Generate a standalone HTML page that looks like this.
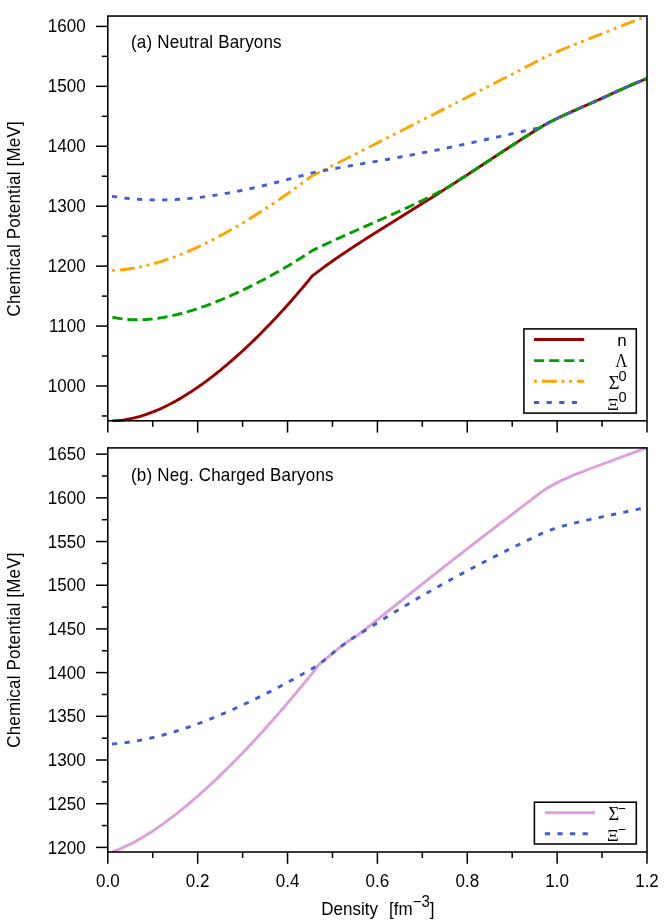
<!DOCTYPE html>
<html><head><meta charset="utf-8"><title>Chemical Potential</title>
<style>html,body{margin:0;padding:0;background:#fff}body{width:664px;height:924px;overflow:hidden}</style></head>
<body>
<svg width="664" height="924" viewBox="0 0 664 924" style="display:block;will-change:transform;font-family:'Liberation Sans',sans-serif;font-size:17px" fill="#000">
<rect width="664" height="924" fill="#fff"/>
<defs><clipPath id="c1"><rect x="107.8" y="15.05" width="539.2" height="407.25"/></clipPath><clipPath id="c2"><rect x="107.8" y="446.9" width="539.2" height="406.6"/></clipPath></defs>
<g text-anchor="end">
<text transform="translate(85.6,391.95) scale(1,1.03)">1000</text>
<text transform="translate(85.6,332.02) scale(1,1.03)">1100</text>
<text transform="translate(85.6,272.08) scale(1,1.03)">1200</text>
<text transform="translate(85.6,212.15) scale(1,1.03)">1300</text>
<text transform="translate(85.6,152.22) scale(1,1.03)">1400</text>
<text transform="translate(85.6,92.28) scale(1,1.03)">1500</text>
<text transform="translate(85.6,32.35) scale(1,1.03)">1600</text>
<text transform="translate(85.6,853.50) scale(1,1.03)">1200</text>
<text transform="translate(85.6,809.81) scale(1,1.03)">1250</text>
<text transform="translate(85.6,766.11) scale(1,1.03)">1300</text>
<text transform="translate(85.6,722.42) scale(1,1.03)">1350</text>
<text transform="translate(85.6,678.72) scale(1,1.03)">1400</text>
<text transform="translate(85.6,635.03) scale(1,1.03)">1450</text>
<text transform="translate(85.6,591.33) scale(1,1.03)">1500</text>
<text transform="translate(85.6,547.64) scale(1,1.03)">1550</text>
<text transform="translate(85.6,503.94) scale(1,1.03)">1600</text>
<text transform="translate(85.6,460.25) scale(1,1.03)">1650</text>
</g>
<g text-anchor="middle">
<text transform="translate(107.80,886.8) scale(1,1.03)">0.0</text>
<text transform="translate(197.67,886.8) scale(1,1.03)">0.2</text>
<text transform="translate(287.53,886.8) scale(1,1.03)">0.4</text>
<text transform="translate(377.40,886.8) scale(1,1.03)">0.6</text>
<text transform="translate(467.27,886.8) scale(1,1.03)">0.8</text>
<text transform="translate(557.13,886.8) scale(1,1.03)">1.0</text>
<text transform="translate(647.00,886.8) scale(1,1.03)">1.2</text>
</g>
<text transform="translate(20.3,218.83) rotate(-90) scale(1,1.055)" text-anchor="middle" letter-spacing="0.19">Chemical Potential [MeV]</text>
<text transform="translate(20.3,650.05) rotate(-90) scale(1,1.055)" text-anchor="middle" letter-spacing="0.19">Chemical Potential [MeV]</text>
<text transform="translate(321.3,914.6) scale(1,1.055)" xml:space="preserve">Density  <tspan dx="1.6">[fm</tspan><tspan font-size="15" dy="-7.2">−3</tspan><tspan dy="7.2">]</tspan></text>
<text transform="translate(131,47.65) scale(1,1.055)" letter-spacing="0.18">(a) Neutral Baryons</text>
<text transform="translate(131,481.25) scale(1,1.055)" letter-spacing="0.18">(b) Neg. Charged Baryons</text>
<g fill="none" stroke-width="2.9" stroke-linejoin="round" clip-path="url(#c1)">
<path d="M112.25,420.90 L114.25,420.82 L116.25,420.70 L118.25,420.55 L120.25,420.35 L122.25,420.11 L124.25,419.84 L126.25,419.52 L128.25,419.17 L130.25,418.78 L132.25,418.36 L134.25,417.90 L136.25,417.40 L138.25,416.87 L140.25,416.31 L142.25,415.71 L144.25,415.07 L146.25,414.41 L148.25,413.71 L150.25,412.98 L152.25,412.22 L154.25,411.42 L156.25,410.60 L158.25,409.74 L160.25,408.86 L162.25,407.95 L164.25,407.00 L166.25,406.03 L168.25,405.03 L170.25,404.00 L172.25,402.95 L174.25,401.87 L176.25,400.76 L178.25,399.62 L180.25,398.46 L182.25,397.28 L184.25,396.07 L186.25,394.83 L188.25,393.57 L190.25,392.28 L192.25,390.97 L194.25,389.64 L196.25,388.28 L198.25,386.90 L200.25,385.50 L202.25,384.07 L204.25,382.63 L206.25,381.16 L208.25,379.67 L210.25,378.15 L212.25,376.62 L214.25,375.06 L216.25,373.49 L218.25,371.89 L220.25,370.28 L222.25,368.64 L224.25,366.98 L226.25,365.30 L228.25,363.61 L230.25,361.89 L232.25,360.16 L234.25,358.40 L236.25,356.63 L238.25,354.84 L240.25,353.03 L242.25,351.20 L244.25,349.35 L246.25,347.49 L248.25,345.60 L250.25,343.70 L252.25,341.78 L254.25,339.84 L256.25,337.89 L258.25,335.91 L260.25,333.92 L262.25,331.91 L264.25,329.89 L266.25,327.85 L268.25,325.78 L270.25,323.71 L272.25,321.61 L274.25,319.50 L276.25,317.37 L278.25,315.22 L280.25,313.05 L282.25,310.87 L284.25,308.67 L286.25,306.45 L288.25,304.21 L290.25,301.96 L292.25,299.69 L294.25,297.40 L296.25,295.10 L298.25,292.77 L300.25,290.43 L302.25,288.07 L304.25,285.70 L306.25,283.30 L308.25,280.89 L310.25,278.45 L312.25,276.00 L312.30,275.94 L314.30,274.34 L316.30,272.82 L318.30,271.32 L320.30,269.83 L322.30,268.36 L324.30,266.90 L326.30,265.46 L328.30,264.02 L330.30,262.60 L332.30,261.19 L334.30,259.80 L336.30,258.41 L338.30,257.03 L340.30,255.67 L342.30,254.31 L344.30,252.96 L346.30,251.62 L348.30,250.29 L350.30,248.96 L352.30,247.65 L354.30,246.33 L356.30,245.03 L358.30,243.73 L360.30,242.44 L362.30,241.15 L364.30,239.87 L366.30,238.59 L368.30,237.32 L370.30,236.05 L372.30,234.79 L374.30,233.53 L376.30,232.27 L378.30,231.01 L380.30,229.76 L382.30,228.50 L384.30,227.25 L386.30,226.01 L388.30,224.76 L390.30,223.51 L392.30,222.27 L394.30,221.02 L396.30,219.78 L398.30,218.53 L400.30,217.29 L402.30,216.05 L404.30,214.80 L406.30,213.56 L408.30,212.31 L410.30,211.06 L412.30,209.82 L414.30,208.57 L416.30,207.32 L418.30,206.07 L420.30,204.81 L422.30,203.56 L424.30,202.30 L426.30,201.04 L428.30,199.78 L430.30,198.52 L432.30,197.26 L434.30,195.99 L436.30,194.72 L438.30,193.45 L440.30,192.18 L442.30,190.90 L444.30,189.62 L446.30,188.34 L448.30,187.06 L450.30,185.78 L452.30,184.49 L454.30,183.20 L456.30,181.91 L458.30,180.61 L460.30,179.32 L462.30,178.02 L464.30,176.72 L466.30,175.42 L468.30,174.12 L470.30,172.81 L472.30,171.50 L474.30,170.20 L476.30,168.89 L478.30,167.58 L480.30,166.26 L482.30,164.95 L484.30,163.64 L486.30,162.32 L488.30,161.01 L490.30,159.69 L492.30,158.38 L494.30,157.07 L496.30,155.75 L498.30,154.44 L500.30,153.12 L502.30,151.81 L504.30,150.50 L506.30,149.19 L508.30,147.89 L510.30,146.58 L512.30,145.28 L514.30,143.98 L516.30,142.68 L518.30,141.38 L520.30,140.09 L522.30,138.81 L524.30,137.52 L526.30,136.25 L528.30,134.97 L530.30,133.71 L532.30,132.44 L534.30,131.19 L536.30,129.94 L538.30,128.69 L539.50,127.95 L541.50,126.71 L543.50,125.56 L545.50,124.44 L547.50,123.36 L549.50,122.29 L551.50,121.26 L553.50,120.25 L555.50,119.25 L557.50,118.28 L559.50,117.32 L561.50,116.38 L563.50,115.45 L565.50,114.53 L567.50,113.62 L569.50,112.72 L571.50,111.82 L573.50,110.93 L575.50,110.05 L577.50,109.16 L579.50,108.28 L581.50,107.40 L583.50,106.52 L585.50,105.64 L587.50,104.75 L589.50,103.87 L591.50,102.98 L593.50,102.09 L595.50,101.19 L597.50,100.30 L599.50,99.40 L601.50,98.49 L603.50,97.59 L605.50,96.68 L607.50,95.77 L609.50,94.85 L611.50,93.94 L613.50,93.02 L615.50,92.11 L617.50,91.19 L619.50,90.28 L621.50,89.37 L623.50,88.47 L625.50,87.57 L627.50,86.68 L629.50,85.79 L631.50,84.91 L633.50,84.05 L635.50,83.20 L637.50,82.36 L639.50,81.54 L641.50,80.74 L643.50,79.97 L645.50,79.21 L647.50,78.48 L648.00,78.30" stroke="#990000"/>
<path d="M112.40,317.25 L114.40,317.65 L116.40,318.02 L118.40,318.35 L120.40,318.64 L122.40,318.90 L124.40,319.12 L126.40,319.31 L128.40,319.47 L130.40,319.59 L132.40,319.68 L134.40,319.74 L136.40,319.77 L138.40,319.77 L140.40,319.73 L142.40,319.67 L144.40,319.58 L146.40,319.46 L148.40,319.32 L150.40,319.15 L152.40,318.95 L154.40,318.73 L156.40,318.48 L158.40,318.21 L160.40,317.91 L162.40,317.59 L164.40,317.25 L166.40,316.88 L168.40,316.50 L170.40,316.09 L172.40,315.66 L174.40,315.21 L176.40,314.74 L178.40,314.25 L180.40,313.74 L182.40,313.21 L184.40,312.66 L186.40,312.10 L188.40,311.52 L190.40,310.92 L192.40,310.30 L194.40,309.67 L196.40,309.02 L198.40,308.35 L200.40,307.67 L202.40,306.98 L204.40,306.27 L206.40,305.54 L208.40,304.80 L210.40,304.05 L212.40,303.28 L214.40,302.50 L216.40,301.71 L218.40,300.90 L220.40,300.08 L222.40,299.25 L224.40,298.40 L226.40,297.55 L228.40,296.68 L230.40,295.80 L232.40,294.91 L234.40,294.00 L236.40,293.09 L238.40,292.16 L240.40,291.23 L242.40,290.28 L244.40,289.32 L246.40,288.35 L248.40,287.37 L250.40,286.38 L252.40,285.38 L254.40,284.37 L256.40,283.35 L258.40,282.32 L260.40,281.28 L262.40,280.23 L264.40,279.17 L266.40,278.09 L268.40,277.01 L270.40,275.92 L272.40,274.82 L274.40,273.71 L276.40,272.58 L278.40,271.45 L280.40,270.31 L282.40,269.16 L284.40,267.99 L286.40,266.82 L288.40,265.63 L290.40,264.44 L292.40,263.23 L294.40,262.01 L296.40,260.78 L298.40,259.54 L300.40,258.29 L302.40,257.03 L304.40,255.75 L306.40,254.47 L308.40,253.17 L310.40,251.86 L312.30,250.60 L314.30,249.62 L316.30,248.66 L318.30,247.70 L320.30,246.74 L322.30,245.79 L324.30,244.85 L326.30,243.91 L328.30,242.98 L330.30,242.05 L332.30,241.13 L334.30,240.21 L336.30,239.30 L338.30,238.39 L340.30,237.49 L342.30,236.58 L344.30,235.69 L346.30,234.79 L348.30,233.90 L350.30,233.01 L352.30,232.12 L354.30,231.23 L356.30,230.35 L358.30,229.47 L360.30,228.58 L362.30,227.70 L364.30,226.82 L366.30,225.95 L368.30,225.07 L370.30,224.19 L372.30,223.31 L374.30,222.43 L376.30,221.55 L378.30,220.66 L380.30,219.78 L382.30,218.90 L384.30,218.01 L386.30,217.12 L388.30,216.23 L390.30,215.33 L392.30,214.44 L394.30,213.54 L396.30,212.63 L398.30,211.73 L400.30,210.81 L402.30,209.90 L404.30,208.98 L406.30,208.05 L408.30,207.12 L410.30,206.19 L412.30,205.25 L414.30,204.30 L416.30,203.35 L418.30,202.39 L420.30,201.43 L422.30,200.46 L424.30,199.48 L426.30,198.49 L428.30,197.50 L430.30,196.50 L432.30,195.49 L434.30,194.47 L436.30,193.44 L438.30,192.41 L440.30,191.36 L442.30,190.31 L444.30,189.25 L446.30,188.17 L448.30,187.06 L450.30,185.78 L452.30,184.49 L454.30,183.20 L456.30,181.91 L458.30,180.61 L460.30,179.32 L462.30,178.02 L464.30,176.72 L466.30,175.42 L468.30,174.12 L470.30,172.81 L472.30,171.50 L474.30,170.20 L476.30,168.89 L478.30,167.58 L480.30,166.26 L482.30,164.95 L484.30,163.64 L486.30,162.32 L488.30,161.01 L490.30,159.69 L492.30,158.38 L494.30,157.07 L496.30,155.75 L498.30,154.44 L500.30,153.12 L502.30,151.81 L504.30,150.50 L506.30,149.19 L508.30,147.89 L510.30,146.58 L512.30,145.28 L514.30,143.98 L516.30,142.68 L518.30,141.38 L520.30,140.09 L522.30,138.81 L524.30,137.52 L526.30,136.25 L528.30,134.97 L530.30,133.71 L532.30,132.44 L534.30,131.19 L536.30,129.94 L538.30,128.69 L539.50,127.95 L541.50,126.71 L543.50,125.56 L545.50,124.44 L547.50,123.36 L549.50,122.29 L551.50,121.26 L553.50,120.25 L555.50,119.25 L557.50,118.28 L559.50,117.32 L561.50,116.38 L563.50,115.45 L565.50,114.53 L567.50,113.62 L569.50,112.72 L571.50,111.82 L573.50,110.93 L575.50,110.05 L577.50,109.16 L579.50,108.28 L581.50,107.40 L583.50,106.52 L585.50,105.64 L587.50,104.75 L589.50,103.87 L591.50,102.98 L593.50,102.09 L595.50,101.19 L597.50,100.30 L599.50,99.40 L601.50,98.49 L603.50,97.59 L605.50,96.68 L607.50,95.77 L609.50,94.85 L611.50,93.94 L613.50,93.02 L615.50,92.11 L617.50,91.19 L619.50,90.28 L621.50,89.37 L623.50,88.47 L625.50,87.57 L627.50,86.68 L629.50,85.79 L631.50,84.91 L633.50,84.05 L635.50,83.20 L637.50,82.36 L639.50,81.54 L641.50,80.74 L643.50,79.97 L645.50,79.21 L647.50,78.48 L648.00,78.30" stroke="#00a000" stroke-dasharray="10.2 4.9"/>
<path d="M112.00,270.35 L114.00,270.27 L116.00,270.17 L118.00,270.04 L120.00,269.89 L122.00,269.71 L124.00,269.50 L126.00,269.27 L128.00,269.01 L130.00,268.73 L132.00,268.42 L134.00,268.10 L136.00,267.74 L138.00,267.37 L140.00,266.97 L142.00,266.55 L144.00,266.11 L146.00,265.65 L148.00,265.16 L150.00,264.66 L152.00,264.13 L154.00,263.58 L156.00,263.01 L158.00,262.43 L160.00,261.82 L162.00,261.19 L164.00,260.55 L166.00,259.89 L168.00,259.21 L170.00,258.51 L172.00,257.79 L174.00,257.05 L176.00,256.30 L178.00,255.53 L180.00,254.75 L182.00,253.94 L184.00,253.12 L186.00,252.29 L188.00,251.44 L190.00,250.57 L192.00,249.69 L194.00,248.80 L196.00,247.89 L198.00,246.96 L200.00,246.02 L202.00,245.07 L204.00,244.10 L206.00,243.12 L208.00,242.12 L210.00,241.12 L212.00,240.10 L214.00,239.06 L216.00,238.02 L218.00,236.96 L220.00,235.89 L222.00,234.80 L224.00,233.71 L226.00,232.60 L228.00,231.48 L230.00,230.36 L232.00,229.21 L234.00,228.06 L236.00,226.90 L238.00,225.73 L240.00,224.54 L242.00,223.35 L244.00,222.15 L246.00,220.93 L248.00,219.71 L250.00,218.47 L252.00,217.23 L254.00,215.98 L256.00,214.71 L258.00,213.44 L260.00,212.16 L262.00,210.87 L264.00,209.57 L266.00,208.26 L268.00,206.95 L270.00,205.62 L272.00,204.29 L274.00,202.95 L276.00,201.59 L278.00,200.24 L280.00,198.87 L282.00,197.49 L284.00,196.11 L286.00,194.72 L288.00,193.32 L290.00,191.91 L292.00,190.50 L294.00,189.07 L296.00,187.64 L298.00,186.20 L300.00,184.76 L302.00,183.30 L304.00,181.84 L306.00,180.37 L308.00,178.90 L310.00,177.42 L312.00,175.92 L312.30,175.70 L314.30,174.71 L316.30,173.72 L318.30,172.73 L320.30,171.74 L322.30,170.74 L324.30,169.75 L326.30,168.75 L328.30,167.75 L330.30,166.74 L332.30,165.74 L334.30,164.74 L336.30,163.73 L338.30,162.73 L340.30,161.72 L342.30,160.71 L344.30,159.70 L346.30,158.69 L348.30,157.68 L350.30,156.66 L352.30,155.65 L354.30,154.64 L356.30,153.62 L358.30,152.61 L360.30,151.59 L362.30,150.57 L364.30,149.56 L366.30,148.54 L368.30,147.52 L370.30,146.51 L372.30,145.49 L374.30,144.47 L376.30,143.45 L378.30,142.43 L380.30,141.41 L382.30,140.39 L384.30,139.38 L386.30,138.36 L388.30,137.34 L390.30,136.32 L392.30,135.30 L394.30,134.28 L396.30,133.26 L398.30,132.24 L400.30,131.22 L402.30,130.20 L404.30,129.19 L406.30,128.17 L408.30,127.15 L410.30,126.13 L412.30,125.11 L414.30,124.10 L416.30,123.08 L418.30,122.06 L420.30,121.04 L422.30,120.03 L424.30,119.01 L426.30,117.99 L428.30,116.98 L430.30,115.96 L432.30,114.94 L434.30,113.93 L436.30,112.91 L438.30,111.90 L440.30,110.88 L442.30,109.87 L444.30,108.85 L446.30,107.83 L448.30,106.82 L450.30,105.80 L452.30,104.79 L454.30,103.77 L456.30,102.76 L458.30,101.74 L460.30,100.73 L462.30,99.71 L464.30,98.69 L466.30,97.68 L468.30,96.66 L470.30,95.64 L472.30,94.63 L474.30,93.61 L476.30,92.59 L478.30,91.57 L480.30,90.55 L482.30,89.53 L484.30,88.51 L486.30,87.49 L488.30,86.47 L490.30,85.44 L492.30,84.42 L494.30,83.40 L496.30,82.37 L498.30,81.34 L500.30,80.31 L502.30,79.29 L504.30,78.26 L506.30,77.22 L508.30,76.19 L510.30,75.16 L512.30,74.12 L514.30,73.08 L516.30,72.04 L518.30,71.00 L520.30,69.96 L522.30,68.91 L524.30,67.87 L526.30,66.82 L528.30,65.77 L530.30,64.71 L532.30,63.66 L534.30,62.60 L536.30,61.54 L538.30,60.47 L540.30,59.41 L540.50,59.30 L542.50,58.33 L544.50,57.37 L546.50,56.44 L548.50,55.52 L550.50,54.61 L552.50,53.72 L554.50,52.84 L556.50,51.98 L558.50,51.12 L560.50,50.27 L562.50,49.44 L564.50,48.61 L566.50,47.79 L568.50,46.97 L570.50,46.16 L572.50,45.35 L574.50,44.55 L576.50,43.75 L578.50,42.95 L580.50,42.16 L582.50,41.36 L584.50,40.57 L586.50,39.78 L588.50,38.99 L590.50,38.20 L592.50,37.41 L594.50,36.61 L596.50,35.82 L598.50,35.03 L600.50,34.24 L602.50,33.44 L604.50,32.65 L606.50,31.85 L608.50,31.06 L610.50,30.26 L612.50,29.46 L614.50,28.67 L616.50,27.88 L618.50,27.08 L620.50,26.29 L622.50,25.50 L624.50,24.71 L626.50,23.93 L628.50,23.15 L630.50,22.37 L632.50,21.60 L634.50,20.84 L636.50,20.08 L638.50,19.33 L640.50,18.59 L642.50,17.86 L644.50,17.13 L646.50,16.42 L648.00,15.90" stroke="#ffa500" stroke-dasharray="2.85 4.7 2.85 5.0 15 4.6" stroke-dashoffset="7.55"/>
<path d="M112.00,196.25 L114.00,196.58 L116.00,196.89 L118.00,197.19 L120.00,197.47 L122.00,197.73 L124.00,197.98 L126.00,198.21 L128.00,198.43 L130.00,198.63 L132.00,198.82 L134.00,198.99 L136.00,199.15 L138.00,199.29 L140.00,199.42 L142.00,199.54 L144.00,199.64 L146.00,199.72 L148.00,199.79 L150.00,199.85 L152.00,199.90 L154.00,199.93 L156.00,199.95 L158.00,199.95 L160.00,199.95 L162.00,199.93 L164.00,199.89 L166.00,199.85 L168.00,199.79 L170.00,199.72 L172.00,199.64 L174.00,199.54 L176.00,199.44 L178.00,199.32 L180.00,199.19 L182.00,199.05 L184.00,198.90 L186.00,198.74 L188.00,198.57 L190.00,198.39 L192.00,198.19 L194.00,197.99 L196.00,197.77 L198.00,197.55 L200.00,197.32 L202.00,197.07 L204.00,196.82 L206.00,196.55 L208.00,196.28 L210.00,196.00 L212.00,195.71 L214.00,195.41 L216.00,195.10 L218.00,194.79 L220.00,194.46 L222.00,194.13 L224.00,193.79 L226.00,193.44 L228.00,193.08 L230.00,192.71 L232.00,192.34 L234.00,191.96 L236.00,191.57 L238.00,191.18 L240.00,190.78 L242.00,190.37 L244.00,189.95 L246.00,189.53 L248.00,189.10 L250.00,188.67 L252.00,188.23 L254.00,187.78 L256.00,187.33 L258.00,186.87 L260.00,186.41 L262.00,185.94 L264.00,185.47 L266.00,184.99 L268.00,184.50 L270.00,184.01 L272.00,183.52 L274.00,183.02 L276.00,182.52 L278.00,182.01 L280.00,181.50 L282.00,180.99 L284.00,180.47 L286.00,179.95 L288.00,179.42 L290.00,178.89 L292.00,178.36 L294.00,177.82 L296.00,177.28 L298.00,176.74 L300.00,176.20 L302.00,175.65 L304.00,175.10 L306.00,174.55 L308.00,174.00 L310.00,173.44 L312.00,172.88 L312.30,172.80 L314.30,172.40 L316.30,172.01 L318.30,171.62 L320.30,171.24 L322.30,170.86 L324.30,170.48 L326.30,170.11 L328.30,169.74 L330.30,169.37 L332.30,169.01 L334.30,168.65 L336.30,168.29 L338.30,167.93 L340.30,167.57 L342.30,167.22 L344.30,166.87 L346.30,166.52 L348.30,166.17 L350.30,165.82 L352.30,165.47 L354.30,165.12 L356.30,164.78 L358.30,164.43 L360.30,164.08 L362.30,163.74 L364.30,163.39 L366.30,163.05 L368.30,162.70 L370.30,162.36 L372.30,162.01 L374.30,161.66 L376.30,161.31 L378.30,160.96 L380.30,160.62 L382.30,160.26 L384.30,159.91 L386.30,159.56 L388.30,159.21 L390.30,158.85 L392.30,158.49 L394.30,158.13 L396.30,157.77 L398.30,157.41 L400.30,157.05 L402.30,156.68 L404.30,156.32 L406.30,155.95 L408.30,155.58 L410.30,155.20 L412.30,154.83 L414.30,154.45 L416.30,154.07 L418.30,153.69 L420.30,153.31 L422.30,152.92 L424.30,152.53 L426.30,152.14 L428.30,151.75 L430.30,151.36 L432.30,150.96 L434.30,150.56 L436.30,150.16 L438.30,149.75 L440.30,149.35 L442.30,148.94 L444.30,148.53 L446.30,148.12 L448.30,147.70 L450.30,147.28 L452.30,146.87 L454.30,146.44 L456.30,146.02 L458.30,145.60 L460.30,145.17 L462.30,144.74 L464.30,144.31 L466.30,143.88 L468.30,143.45 L470.30,143.01 L472.30,142.57 L474.30,142.14 L476.30,141.70 L478.30,141.26 L480.30,140.81 L482.30,140.37 L484.30,139.93 L486.30,139.48 L488.30,139.04 L490.30,138.59 L492.30,138.14 L494.30,137.70 L496.30,137.25 L498.30,136.80 L500.30,136.35 L502.30,135.91 L504.30,135.46 L506.30,135.01 L508.30,134.57 L510.30,134.12 L512.30,133.68 L514.30,133.23 L516.30,132.79 L518.30,132.35 L520.30,131.91 L522.30,131.47 L524.30,131.04 L526.30,130.60 L528.30,130.17 L530.30,129.74 L532.30,129.31 L534.30,128.89 L536.30,128.47 L538.30,128.05 L539.50,127.80 L541.50,126.71 L543.50,125.56 L545.50,124.44 L547.50,123.36 L549.50,122.29 L551.50,121.26 L553.50,120.25 L555.50,119.25 L557.50,118.28 L559.50,117.32 L561.50,116.38 L563.50,115.45 L565.50,114.53 L567.50,113.62 L569.50,112.72 L571.50,111.82 L573.50,110.93 L575.50,110.05 L577.50,109.16 L579.50,108.28 L581.50,107.40 L583.50,106.52 L585.50,105.64 L587.50,104.75 L589.50,103.87 L591.50,102.98 L593.50,102.09 L595.50,101.19 L597.50,100.30 L599.50,99.40 L601.50,98.49 L603.50,97.59 L605.50,96.68 L607.50,95.77 L609.50,94.85 L611.50,93.94 L613.50,93.02 L615.50,92.11 L617.50,91.19 L619.50,90.28 L621.50,89.37 L623.50,88.47 L625.50,87.57 L627.50,86.68 L629.50,85.79 L631.50,84.91 L633.50,84.05 L635.50,83.20 L637.50,82.36 L639.50,81.54 L641.50,80.74 L643.50,79.97 L645.50,79.21 L647.50,78.48 L648.00,78.30" stroke="#435cd3" stroke-dasharray="5.2 7.4"/>
</g>
<g fill="none" stroke-width="2.9" stroke-linejoin="round" clip-path="url(#c2)">
<path d="M112.40,851.74 L114.40,851.03 L116.40,850.28 L118.40,849.49 L120.40,848.67 L122.40,847.81 L124.40,846.91 L126.40,845.98 L128.40,845.02 L130.40,844.03 L132.40,843.00 L134.40,841.95 L136.40,840.86 L138.40,839.75 L140.40,838.61 L142.40,837.43 L144.40,836.24 L146.40,835.01 L148.40,833.76 L150.40,832.49 L152.40,831.19 L154.40,829.86 L156.40,828.51 L158.40,827.14 L160.40,825.75 L162.40,824.33 L164.40,822.89 L166.40,821.43 L168.40,819.95 L170.40,818.45 L172.40,816.93 L174.40,815.39 L176.40,813.83 L178.40,812.25 L180.40,810.65 L182.40,809.04 L184.40,807.40 L186.40,805.75 L188.40,804.08 L190.40,802.39 L192.40,800.69 L194.40,798.97 L196.40,797.23 L198.40,795.48 L200.40,793.71 L202.40,791.92 L204.40,790.12 L206.40,788.30 L208.40,786.47 L210.40,784.63 L212.40,782.76 L214.40,780.89 L216.40,778.99 L218.40,777.09 L220.40,775.17 L222.40,773.23 L224.40,771.28 L226.40,769.32 L228.40,767.34 L230.40,765.35 L232.40,763.35 L234.40,761.33 L236.40,759.30 L238.40,757.25 L240.40,755.19 L242.40,753.12 L244.40,751.04 L246.40,748.94 L248.40,746.83 L250.40,744.70 L252.40,742.57 L254.40,740.42 L256.40,738.25 L258.40,736.08 L260.40,733.89 L262.40,731.69 L264.40,729.48 L266.40,727.26 L268.40,725.03 L270.40,722.78 L272.40,720.52 L274.40,718.25 L276.40,715.97 L278.40,713.67 L280.40,711.37 L282.40,709.06 L284.40,706.73 L286.40,704.39 L288.40,702.05 L290.40,699.69 L292.40,697.32 L294.40,694.95 L296.40,692.56 L298.40,690.16 L300.40,687.76 L302.40,685.35 L304.40,682.92 L306.40,680.49 L308.40,678.05 L310.40,675.61 L312.40,673.15 L313.75,671.49 L315.75,668.72 L317.75,665.94 L318.50,664.90 L320.50,663.29 L322.50,661.66 L324.50,660.01 L326.50,658.35 L328.50,656.68 L330.50,655.02 L332.50,653.36 L334.50,651.72 L336.50,650.09 L338.50,648.48 L340.50,646.90 L342.50,645.36 L344.50,643.85 L346.50,642.39 L348.50,640.98 L350.50,639.63 L352.50,638.33 L354.50,637.11 L356.50,635.95 L357.50,635.40 L359.50,633.83 L361.50,632.26 L363.50,630.68 L365.50,629.11 L367.50,627.53 L369.50,625.95 L371.50,624.36 L373.50,622.78 L375.50,621.19 L377.50,619.61 L379.50,618.02 L381.50,616.43 L383.50,614.84 L385.50,613.25 L387.50,611.66 L389.50,610.07 L391.50,608.48 L393.50,606.89 L395.50,605.30 L397.50,603.71 L399.50,602.11 L401.50,600.52 L403.50,598.93 L405.50,597.34 L407.50,595.75 L409.50,594.16 L411.50,592.57 L413.50,590.99 L415.50,589.40 L417.50,587.81 L419.50,586.23 L421.50,584.64 L423.50,583.06 L425.50,581.48 L427.50,579.90 L429.50,578.32 L431.50,576.74 L433.50,575.16 L435.50,573.58 L437.50,572.01 L439.50,570.44 L441.50,568.87 L443.50,567.30 L445.50,565.73 L447.50,564.16 L449.50,562.60 L451.50,561.03 L453.50,559.47 L455.50,557.91 L457.50,556.35 L459.50,554.79 L461.50,553.24 L463.50,551.68 L465.50,550.13 L467.50,548.58 L469.50,547.03 L471.50,545.48 L473.50,543.94 L475.50,542.39 L477.50,540.85 L479.50,539.31 L481.50,537.77 L483.50,536.23 L485.50,534.69 L487.50,533.15 L489.50,531.62 L491.50,530.09 L493.50,528.55 L495.50,527.02 L497.50,525.49 L499.50,523.96 L501.50,522.43 L503.50,520.90 L505.50,519.38 L507.50,517.85 L509.50,516.32 L511.50,514.80 L513.50,513.27 L515.50,511.75 L517.50,510.22 L519.50,508.70 L521.50,507.18 L523.50,505.65 L525.50,504.13 L527.50,502.60 L529.50,501.08 L531.50,499.55 L533.50,498.02 L535.50,496.50 L537.50,494.97 L539.50,493.44 L541.50,491.91 L542.20,491.37 L544.20,490.07 L546.20,488.80 L548.20,487.58 L550.20,486.40 L552.20,485.27 L554.20,484.19 L556.20,483.14 L558.20,482.12 L560.20,481.14 L562.20,480.18 L564.20,479.26 L566.20,478.35 L568.20,477.48 L570.20,476.62 L572.20,475.78 L574.20,474.95 L576.20,474.14 L578.20,473.34 L580.20,472.56 L582.20,471.78 L584.20,471.01 L586.20,470.25 L588.20,469.49 L590.20,468.74 L592.20,467.99 L594.20,467.24 L596.20,466.49 L598.20,465.75 L600.20,465.00 L602.20,464.26 L604.20,463.51 L606.20,462.76 L608.20,462.01 L610.20,461.27 L612.20,460.52 L614.20,459.76 L616.20,459.01 L618.20,458.26 L620.20,457.51 L622.20,456.76 L624.20,456.01 L626.20,455.26 L628.20,454.52 L630.20,453.78 L632.20,453.04 L634.20,452.32 L636.20,451.60 L638.20,450.89 L640.20,450.19 L642.20,449.50 L644.20,448.83 L646.20,448.18 L648.00,447.60" stroke="#dda0dd"/>
<path d="M112.00,744.00 L114.00,743.85 L116.00,743.68 L118.00,743.50 L120.00,743.29 L122.00,743.07 L124.00,742.83 L126.00,742.58 L128.00,742.30 L130.00,742.01 L132.00,741.71 L134.00,741.38 L136.00,741.04 L138.00,740.69 L140.00,740.32 L142.00,739.93 L144.00,739.53 L146.00,739.12 L148.00,738.69 L150.00,738.24 L152.00,737.78 L154.00,737.31 L156.00,736.82 L158.00,736.32 L160.00,735.81 L162.00,735.28 L164.00,734.74 L166.00,734.19 L168.00,733.62 L170.00,733.04 L172.00,732.45 L174.00,731.85 L176.00,731.24 L178.00,730.61 L180.00,729.97 L182.00,729.32 L184.00,728.66 L186.00,727.99 L188.00,727.31 L190.00,726.62 L192.00,725.91 L194.00,725.20 L196.00,724.48 L198.00,723.74 L200.00,723.00 L202.00,722.24 L204.00,721.48 L206.00,720.71 L208.00,719.93 L210.00,719.13 L212.00,718.33 L214.00,717.52 L216.00,716.70 L218.00,715.88 L220.00,715.04 L222.00,714.20 L224.00,713.34 L226.00,712.48 L228.00,711.61 L230.00,710.73 L232.00,709.85 L234.00,708.96 L236.00,708.05 L238.00,707.15 L240.00,706.23 L242.00,705.30 L244.00,704.37 L246.00,703.43 L248.00,702.49 L250.00,701.53 L252.00,700.57 L254.00,699.61 L256.00,698.63 L258.00,697.65 L260.00,696.66 L262.00,695.67 L264.00,694.67 L266.00,693.66 L268.00,692.64 L270.00,691.62 L272.00,690.59 L274.00,689.56 L276.00,688.52 L278.00,687.47 L280.00,686.41 L282.00,685.35 L284.00,684.29 L286.00,683.21 L288.00,682.13 L290.00,681.05 L292.00,679.96 L294.00,678.86 L296.00,677.75 L298.00,676.64 L300.00,675.53 L302.00,674.40 L304.00,673.27 L306.00,672.14 L308.00,671.00 L310.00,669.85 L312.00,668.69 L314.00,667.53 L316.00,666.37 L318.00,665.19 L318.50,664.90 L320.50,663.29 L322.50,661.66 L324.50,660.01 L326.50,658.35 L328.50,656.68 L330.50,655.02 L332.50,653.36 L334.50,651.72 L336.50,650.09 L338.50,648.48 L340.50,646.90 L342.50,645.36 L344.50,643.85 L346.50,642.39 L348.50,640.98 L350.50,639.63 L352.50,638.33 L354.50,637.11 L356.50,635.95 L357.50,635.40 L359.50,634.11 L361.50,632.83 L363.50,631.55 L365.50,630.27 L367.50,629.00 L369.50,627.73 L371.50,626.47 L373.50,625.21 L375.50,623.95 L377.50,622.70 L379.50,621.45 L381.50,620.21 L383.50,618.97 L385.50,617.73 L387.50,616.50 L389.50,615.27 L391.50,614.04 L393.50,612.82 L395.50,611.61 L397.50,610.40 L399.50,609.19 L401.50,607.99 L403.50,606.79 L405.50,605.59 L407.50,604.40 L409.50,603.22 L411.50,602.03 L413.50,600.86 L415.50,599.68 L417.50,598.51 L419.50,597.35 L421.50,596.19 L423.50,595.03 L425.50,593.88 L427.50,592.73 L429.50,591.59 L431.50,590.45 L433.50,589.32 L435.50,588.19 L437.50,587.06 L439.50,585.94 L441.50,584.82 L443.50,583.70 L445.50,582.60 L447.50,581.49 L449.50,580.39 L451.50,579.29 L453.50,578.20 L455.50,577.11 L457.50,576.02 L459.50,574.94 L461.50,573.87 L463.50,572.79 L465.50,571.73 L467.50,570.66 L469.50,569.60 L471.50,568.54 L473.50,567.49 L475.50,566.44 L477.50,565.40 L479.50,564.35 L481.50,563.32 L483.50,562.28 L485.50,561.25 L487.50,560.22 L489.50,559.20 L491.50,558.18 L493.50,557.16 L495.50,556.15 L497.50,555.14 L499.50,554.14 L501.50,553.13 L503.50,552.13 L505.50,551.14 L507.50,550.14 L509.50,549.15 L511.50,548.17 L513.50,547.18 L515.50,546.20 L517.50,545.22 L519.50,544.25 L521.50,543.27 L523.50,542.30 L525.50,541.33 L527.50,540.37 L529.50,539.41 L531.50,538.45 L533.50,537.49 L535.50,536.53 L537.50,535.58 L539.50,534.63 L541.50,533.68 L542.40,533.25 L544.40,532.41 L546.40,531.61 L548.40,530.84 L550.40,530.11 L552.40,529.40 L554.40,528.72 L556.40,528.06 L558.40,527.43 L560.40,526.82 L562.40,526.23 L564.40,525.66 L566.40,525.11 L568.40,524.58 L570.40,524.05 L572.40,523.55 L574.40,523.05 L576.40,522.56 L578.40,522.09 L580.40,521.62 L582.40,521.16 L584.40,520.71 L586.40,520.26 L588.40,519.82 L590.40,519.38 L592.40,518.95 L594.40,518.52 L596.40,518.09 L598.40,517.66 L600.40,517.24 L602.40,516.81 L604.40,516.39 L606.40,515.96 L608.40,515.54 L610.40,515.12 L612.40,514.69 L614.40,514.27 L616.40,513.84 L618.40,513.42 L620.40,512.99 L622.40,512.56 L624.40,512.14 L626.40,511.71 L628.40,511.29 L630.40,510.87 L632.40,510.45 L634.40,510.03 L636.40,509.61 L638.40,509.20 L640.40,508.79 L642.40,508.39 L644.40,508.00 L646.40,507.61 L648.00,507.30" stroke="#435cd3" stroke-dasharray="5.2 7.4"/>
</g>
<g stroke="#000" stroke-width="1.55" fill="none" stroke-linecap="butt">
<rect x="107.8" y="16.05" width="539.2" height="404.75"/>
<rect x="107.8" y="447.9" width="539.2" height="404.1"/>
</g>
<g stroke="#000" stroke-width="1.5" fill="none" stroke-linecap="butt">
<path d="M101.80,415.97H107.8"/>
<path d="M96.00,386.00H107.8"/>
<path d="M101.80,356.03H107.8"/>
<path d="M96.00,326.07H107.8"/>
<path d="M101.80,296.10H107.8"/>
<path d="M96.00,266.13H107.8"/>
<path d="M101.80,236.17H107.8"/>
<path d="M96.00,206.20H107.8"/>
<path d="M101.80,176.23H107.8"/>
<path d="M96.00,146.27H107.8"/>
<path d="M101.80,116.30H107.8"/>
<path d="M96.00,86.33H107.8"/>
<path d="M101.80,56.37H107.8"/>
<path d="M96.00,26.40H107.8"/>
<path d="M96.00,847.40H107.8"/>
<path d="M101.80,825.55H107.8"/>
<path d="M96.00,803.71H107.8"/>
<path d="M101.80,781.86H107.8"/>
<path d="M96.00,760.01H107.8"/>
<path d="M101.80,738.16H107.8"/>
<path d="M96.00,716.32H107.8"/>
<path d="M101.80,694.47H107.8"/>
<path d="M96.00,672.62H107.8"/>
<path d="M101.80,650.77H107.8"/>
<path d="M96.00,628.93H107.8"/>
<path d="M101.80,607.08H107.8"/>
<path d="M96.00,585.23H107.8"/>
<path d="M101.80,563.39H107.8"/>
<path d="M96.00,541.54H107.8"/>
<path d="M101.80,519.69H107.8"/>
<path d="M96.00,497.84H107.8"/>
<path d="M101.80,476.00H107.8"/>
<path d="M96.00,454.15H107.8"/>
<path d="M107.80,420.8V432.60"/>
<path d="M107.80,852.0V863.80"/>
<path d="M152.73,420.8V426.80"/>
<path d="M152.73,852.0V858.00"/>
<path d="M197.67,420.8V432.60"/>
<path d="M197.67,852.0V863.80"/>
<path d="M242.60,420.8V426.80"/>
<path d="M242.60,852.0V858.00"/>
<path d="M287.53,420.8V432.60"/>
<path d="M287.53,852.0V863.80"/>
<path d="M332.47,420.8V426.80"/>
<path d="M332.47,852.0V858.00"/>
<path d="M377.40,420.8V432.60"/>
<path d="M377.40,852.0V863.80"/>
<path d="M422.33,420.8V426.80"/>
<path d="M422.33,852.0V858.00"/>
<path d="M467.27,420.8V432.60"/>
<path d="M467.27,852.0V863.80"/>
<path d="M512.20,420.8V426.80"/>
<path d="M512.20,852.0V858.00"/>
<path d="M557.13,420.8V432.60"/>
<path d="M557.13,852.0V863.80"/>
<path d="M602.07,420.8V426.80"/>
<path d="M602.07,852.0V858.00"/>
<path d="M647.00,420.8V432.60"/>
<path d="M647.00,852.0V863.80"/>
</g>
<rect x="523.9" y="328.9" width="112.40" height="84.20" fill="#fff" stroke="#000" stroke-width="1.55"/>
<g fill="none" stroke-width="2.9">
<path d="M534,339.5H584.2" stroke="#990000"/>
<path d="M534,360.6H584.2" stroke="#00a000" stroke-dasharray="10.2 4.9"/>
<path d="M534,381.3H584.2" stroke="#ffa500" stroke-dasharray="2.85 4.7 2.85 5.0 15 4.6" stroke-dashoffset="7.55"/>
<path d="M534,402.5H584.2" stroke="#435cd3" stroke-dasharray="5.2 7.4"/>
</g>
<g text-anchor="end">
<text x="626.6" y="345.5">n</text>
<text transform="translate(627.3,366.7) scale(0.94,1)" font-size="17.8" style="font-family:'Liberation Serif',serif">Λ</text>
<text x="619.6" y="388.95" font-size="18.5" style="font-family:'Liberation Serif',serif">Σ</text><text transform="translate(626.6,380.6) scale(0.96,1)" font-size="15.2">0</text>
<text transform="translate(619.0,410.3) scale(1.07,1)" font-size="17" style="font-family:'Liberation Serif',serif">Ξ</text><text transform="translate(626.6,401.6) scale(0.96,1)" font-size="15.2">0</text>
</g>
<rect x="534.4" y="802.2" width="101.90" height="41.80" fill="#fff" stroke="#000" stroke-width="1.55"/>
<g fill="none" stroke-width="2.9">
<path d="M544.8,812.7H595" stroke="#dda0dd"/>
<path d="M544.8,833.75H595" stroke="#435cd3" stroke-dasharray="5.2 7.4"/>
</g>
<g text-anchor="end">
<text x="619.2" y="820.25" font-size="18.5" style="font-family:'Liberation Serif',serif">Σ</text><text x="626.3" y="812.5" font-size="13.6">−</text>
<text transform="translate(618.6,840.9) scale(1.07,1)" font-size="17" style="font-family:'Liberation Serif',serif">Ξ</text><text x="626.3" y="833.6" font-size="13.6">−</text>
</g>
</svg>
</body></html>
